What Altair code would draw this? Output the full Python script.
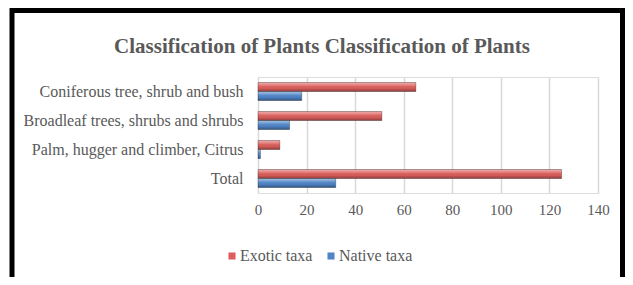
import altair as alt
import pandas as pd

categories = ["Coniferous tree, shrub and bush", "Broadleaf trees, shrubs and shrubs",
              "Palm, hugger and climber, Citrus", "Total"]
series = ["Exotic taxa", "Native taxa"]
exotic = [65, 51, 9, 125]
native = [18, 13, 1, 32]
x_ticks = [0, 20, 40, 60, 80, 100, 120, 140]
title_text = "Classification of Plants Classification of Plants"

rows = []
for c, e, n in zip(categories, exotic, native):
    rows.append({"category": c, "series": series[0], "value": e})
    rows.append({"category": c, "series": series[1], "value": n})
df = pd.DataFrame(rows)

FONT = "Liberation Serif"
GRAY = "#595959"

y_enc = alt.Y("category:N", sort=categories, title=None,
              scale=alt.Scale(paddingInner=0.38, paddingOuter=0.19),
              axis=alt.Axis(domain=False, ticks=False, labelPadding=15, labelFontSize=16,
                            labelLimit=400,
                            labelFont=FONT, labelColor=GRAY, grid=False))
x_enc = alt.X("value:Q", title=None,
              scale=alt.Scale(domain=[0, 140], nice=False),
              axis=alt.Axis(values=x_ticks, domain=False, ticks=False, labelPadding=9,
                            labelFlush=False,
                            labelFontSize=15, labelFont=FONT, labelColor=GRAY,
                            grid=True, gridColor="#d9d9d9", gridWidth=1.5))
yoff = alt.YOffset("series:N", sort=series, scale=alt.Scale(domain=series))

base = alt.Chart(df).mark_bar().encode(
    y=y_enc, x=x_enc, yOffset=yoff,
    color=alt.Color("series:N", sort=series,
                    scale=alt.Scale(domain=series, range=["#dc5f5c", "#5085c8"]),
                    legend=alt.Legend(title=None, orient="none", direction="horizontal",
                                      legendX=-34, legendY=171, symbolType="square",
                                      symbolSize=50, labelFont=FONT, labelFontSize=16,
                                      labelColor=GRAY, columnPadding=10, labelOffset=0,
                                      symbolStrokeWidth=0))
)

shine = alt.LinearGradient(
    gradient="linear", x1=0, x2=0, y1=0, y2=1,
    stops=[alt.GradientStop(color="rgba(255,255,255,0.5)", offset=0),
           alt.GradientStop(color="rgba(255,255,255,0.15)", offset=0.35),
           alt.GradientStop(color="rgba(0,0,0,0)", offset=0.6),
           alt.GradientStop(color="rgba(0,0,0,0.35)", offset=1)])

overlay = alt.Chart(df).mark_bar(color=shine, stroke="rgba(0,0,0,0.35)", strokeWidth=0.8).encode(
    y=alt.Y("category:N", sort=categories), x="value:Q", yOffset=yoff
)

frame = alt.Chart(alt.Data(values=[{"a": 1}])).mark_rect(
    filled=False, stroke="black", strokeWidth=5
).encode(x=alt.value(-246), x2=alt.value(364.5), y=alt.value(-66.5), y2=alt.value(320))

chart = alt.layer(base, overlay, frame).properties(
    width=340, height=116,
    autosize=alt.AutoSizeParams(type="none"),
    padding={"left": 250, "top": 69, "right": 27, "bottom": 84},
    title=alt.TitleParams(title_text, font=FONT, fontSize=21, fontWeight="bold",
                          color=GRAY, anchor="middle", frame="group", dx=-106, dy=63,
                          offset=14),
).configure_view(stroke=None).configure(background="white")

chart.save("out.html", embed_options={"renderer": "svg", "actions": False})
